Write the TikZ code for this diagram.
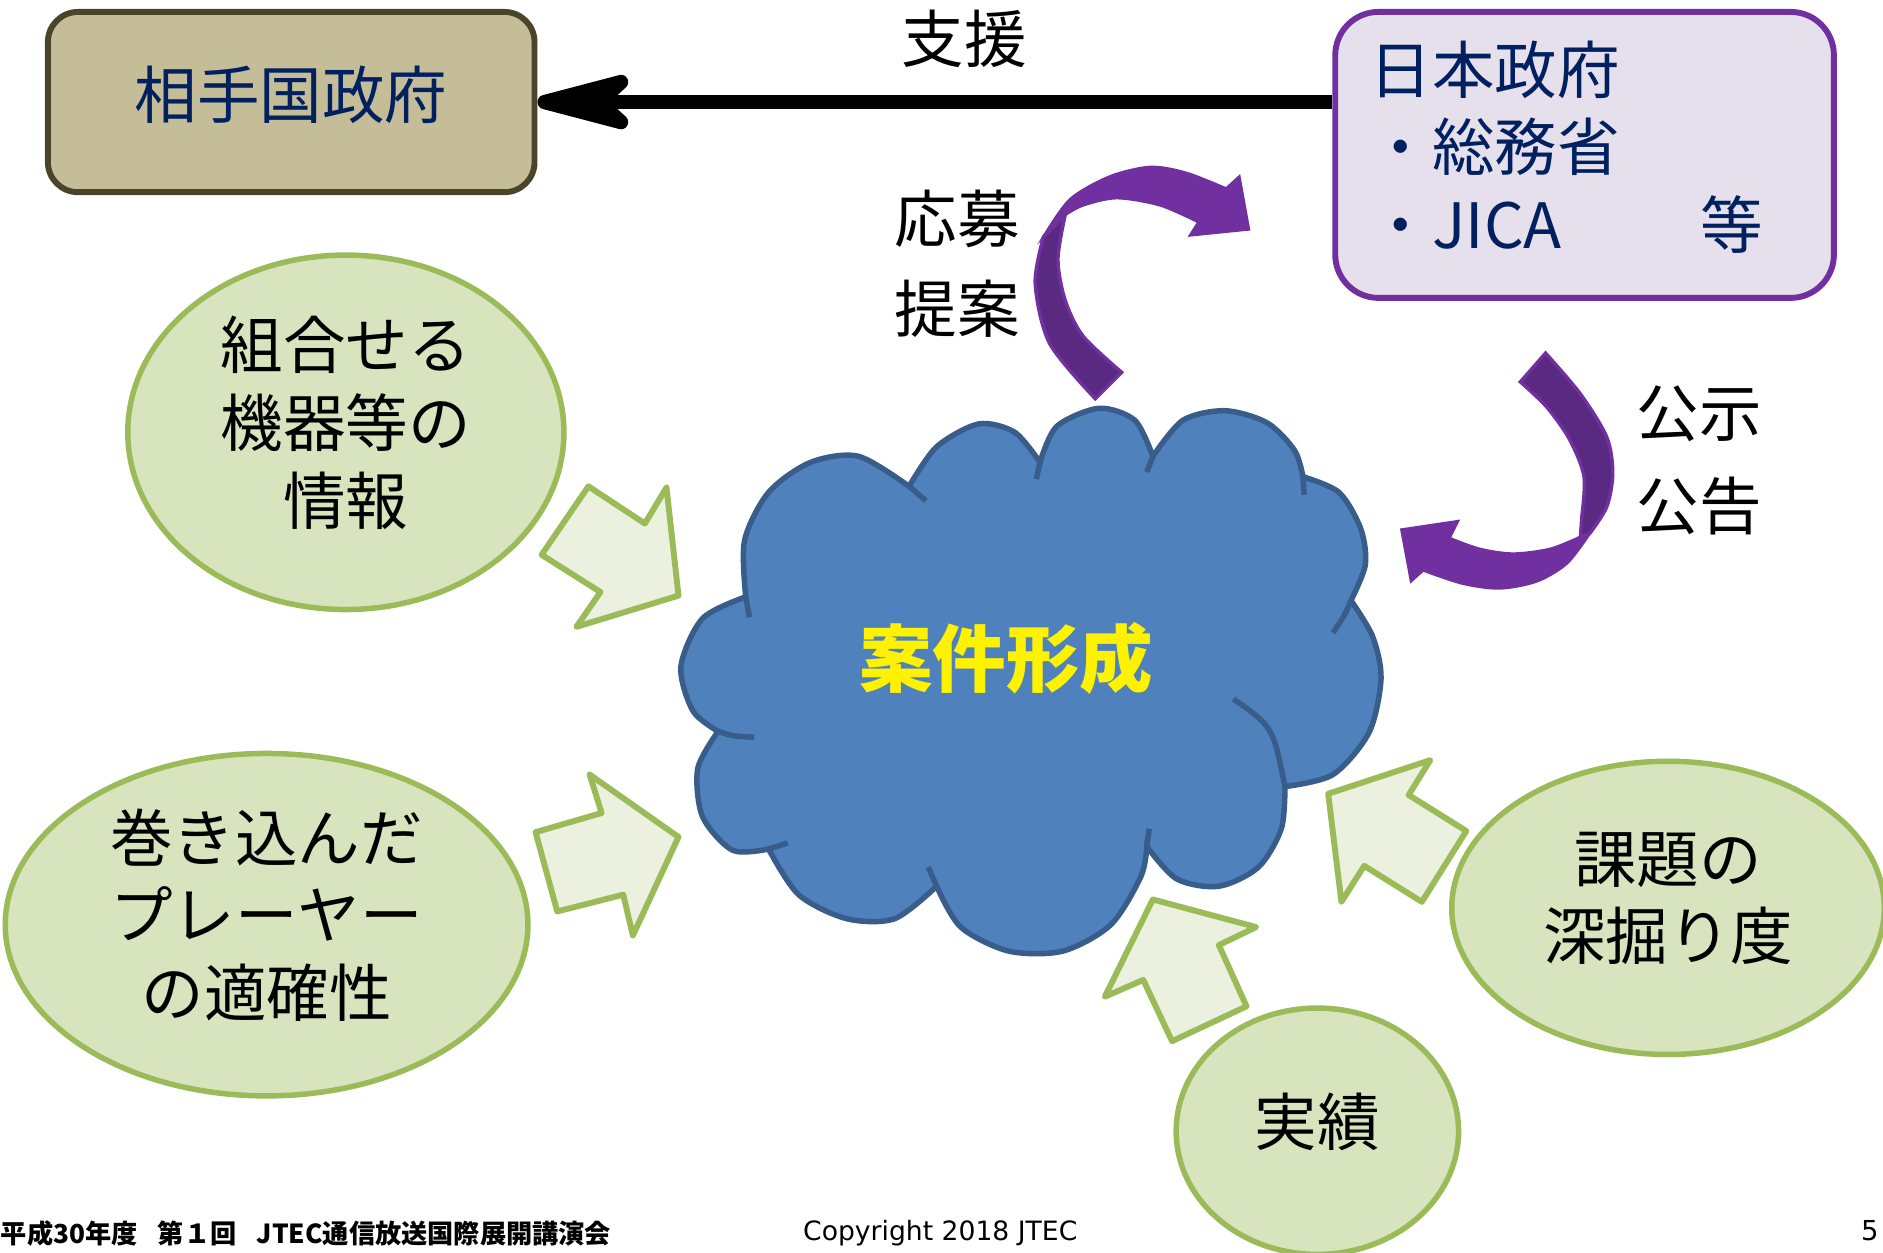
\documentclass[tikz,border=0pt]{standalone}
\usepackage{fontspec}
\setmainfont{Noto Sans CJK JP}
\newfontfamily\dejavu{DejaVu Sans}
\usetikzlibrary{arrows.meta,shapes.geometric}

\definecolor{navytext}{HTML}{002060}
\definecolor{olivefill}{HTML}{C4BD97}
\definecolor{olivedraw}{HTML}{4A452A}
\definecolor{lilacfill}{HTML}{E6E0EC}
\definecolor{purplemain}{HTML}{7030A0}
\definecolor{purpleback}{HTML}{5A2A82}
\definecolor{cloudfill}{HTML}{4F81BD}
\definecolor{clouddraw}{HTML}{385D8A}
\definecolor{greenfill}{HTML}{D7E4BD}
\definecolor{greendraw}{HTML}{9BBB59}
\definecolor{arrowfill}{HTML}{EBF1DE}

\tikzset{
  bigtext/.style={font=\fontsize{14.8pt}{18.4pt}\selectfont},
  govbox/.style={draw, line width=1.4pt, inner sep=0pt},
  idea/.style={ellipse, draw=greendraw, fill=greenfill, line width=1.3pt,
    align=center, inner sep=0pt, text depth=0.2cm, bigtext},
  pusharrow/.style={draw=greendraw, fill=arrowfill, line width=1.4pt, line join=round},
  cloudshape/.style={draw=clouddraw, fill=cloudfill, line width=1.3pt},
  cloudline/.style={draw=clouddraw, line width=1.3pt},
  twistfront/.style={fill=purplemain, draw=purplemain, line width=0.6pt},
  twistback/.style={fill=purpleback, draw=purplemain, line width=0.8pt},
}

\begin{document}
\begin{tikzpicture}[x=0.01cm, y=-0.01cm]
  \useasboundingbox (0,0) rectangle (1568,1043);

  % governments
  \node[govbox, rounded corners=0.25cm, draw=olivedraw, fill=olivefill,
        minimum width=4.05cm, minimum height=1.5cm, text=navytext, text depth=0.16cm, bigtext]
        (pgov) at (242.5,85) {相手国政府};
  \node[govbox, rounded corners=0.36cm, draw=purplemain, fill=lilacfill,
        minimum width=4.15cm, minimum height=2.38cm] (jgov) at (1319.5,129) {};
  \node[anchor=west, align=left, inner sep=0pt, text=navytext,
        font=\fontsize{14.8pt}{18.3pt}\selectfont]
        (jgovtxt) at (1140,122.5) {日本政府\\・総務省\\\hbox to 3.27cm{・JICA\hfill 等}};

  \draw[line width=3.4pt, -{Stealth[length=1.08cm, width=0.56cm, inset=0.3cm, round]}]
        (pgov.east -| jgov.west) -- (pgov.east);
  \node[bigtext] (shien) at (803,32) {支援};

  % cloud
  \filldraw[cloudshape]
    plot[smooth] coordinates {(621,497) (620,450) (640,410) (675,385) (715,380) (757,405)}
    -- plot[smooth] coordinates {(757,405) (780,372) (815,353) (845,360) (866,385)}
    -- plot[smooth] coordinates {(866,385) (880,355) (915,340) (945,350) (960,380)}
    -- plot[smooth] coordinates {(960,380) (985,350) (1020,342) (1055,352) (1078,375) (1085,397)}
    -- plot[smooth] coordinates {(1085,397) (1115,410) (1133,440) (1137,470) (1125,500)}
    -- plot[smooth] coordinates {(1125,500) (1143,530) (1150,565) (1140,610) (1110,645) (1070,655)}
    -- plot[smooth] coordinates {(1070,655) (1067,690) (1048,722) (1015,738) (980,732) (955,705)}
    -- plot[smooth] coordinates {(955,705) (950,730) (925,770) (885,792) (840,792) (800,772) (780,738)}
    -- plot[smooth] coordinates {(780,738) (745,765) (705,765) (665,745) (640,707)}
    -- plot[smooth] coordinates {(640,707) (610,708) (585,680) (581,640) (598,609)}
    -- plot[smooth] coordinates {(598,609) (577,592) (567,555) (585,515) (621,497)}
    -- cycle;
  \draw[cloudline] (621,497) -- (624,514);
  \draw[cloudline] (757,405) -- (771,417);
  \draw[cloudline] (866,385) -- (863,399);
  \draw[cloudline] (960,380) -- (955,393);
  \draw[cloudline] (1085,397) -- (1086,412);
  \draw[cloudline] (1125,500) .. controls (1120,512) .. (1110,527);
  \draw[cloudline] (1027,582) .. controls (1060,605) .. (1070,655);
  \draw[cloudline] (955,705) -- (957,690);
  \draw[cloudline] (780,738) -- (773,722);
  \draw[cloudline] (640,707) -- (656,702);
  \draw[cloudline] (598,609) .. controls (610,613) .. (628,614);
  \node[text=yellow, font=\fontsize{17.4pt}{20pt}\selectfont\bfseries] (anken) at (838,548) {案件形成};

  % curved arrows
  \filldraw[twistback]
    plot[smooth] coordinates {(869,197) (862,236) (874,286) (912,332)} -- (934,310)
    -- plot[smooth] coordinates {(934,310) (902,280) (887,250) (881,216) (887,179)} -- cycle;
  \filldraw[twistfront]
    plot[smooth] coordinates {(869,197) (891,166) (924,147) (958,139) (988,144) (1021,157)}
    -- (1032,147) -- (1040,191) -- (991,196) -- (998,185)
    -- plot[smooth] coordinates {(998,185) (966,171) (930,165) (902,171) (887,179)} -- cycle;
  \node[align=center, font=\fontsize{14.8pt}{21.3pt}\selectfont] (oubo) at (797,220) {応募\\提案};

  \filldraw[twistback]
    plot[smooth] coordinates {(1266,318) (1288,339) (1307,366) (1319,397) (1317,433) (1316,447)}
    -- (1324,444)
    -- plot[smooth] coordinates {(1324,444) (1338,422) (1343,394) (1338,364) (1316,328) (1287,294)} -- cycle;
  \filldraw[twistfront]
    plot[smooth] coordinates {(1324,444) (1305,469) (1280,484) (1249,490) (1218,486) (1185,475)}
    -- (1175,484) -- (1167,441) -- (1214,434) -- (1207,448)
    -- plot[smooth] coordinates {(1207,448) (1232,457) (1260,461) (1291,457) (1316,447)} -- cycle;
  \node[align=center, font=\fontsize{14.8pt}{21.9pt}\selectfont] (koji) at (1415,383.5) {公示\\公告};

  % factors
  \node[idea, minimum width=3.63cm, minimum height=2.95cm] (kiki) at (288,360) {組合せる\\機器等の\\情報};
  \node[idea, minimum width=4.35cm, minimum height=2.85cm] (player) at (222,770) {巻き込んだ\\プレーヤー\\の適確性};
  \node[idea, minimum width=3.6cm, minimum height=2.44cm] (kadai) at (1389,756) {課題の\\深掘り度};
  \node[idea, minimum width=2.35cm, minimum height=2.05cm] (jisseki) at (1097,942) {実績};

  \filldraw[pusharrow] (451,462) -- (490,405) -- (537,436) -- (555,406) -- (565,496) -- (480,522) -- (500,493) -- cycle;
  \filldraw[pusharrow] (446,693) -- (501,677) -- (491,645) -- (565,697) -- (527,779) -- (519,745) -- (464,759) -- cycle;
  \filldraw[pusharrow] (960,749) -- (1046,772) -- (1015,787) -- (1038,838) -- (976,867) -- (952,816) -- (920,830) -- cycle;
  \filldraw[pusharrow] (1106,661) -- (1191,633) -- (1173,662) -- (1221,692) -- (1184,751) -- (1136,721) -- (1117,751) -- cycle;

  % footer
  \node[anchor=west, inner sep=0pt, font=\fontsize{6.2pt}{7pt}\selectfont\bfseries]
        (event) at (0,1027) {平成30年度\hspace{0.17cm}第１回\hspace{0.17cm}JTEC通信放送国際展開講演会};
  \node[font=\dejavu\fontsize{6.3pt}{7pt}\selectfont] (copy) at (783,1027) {Copyright 2018 JTEC};
  \node[font=\dejavu\fontsize{6.5pt}{7pt}\selectfont] (page) at (1557,1025) {5};
\end{tikzpicture}
\end{document}
